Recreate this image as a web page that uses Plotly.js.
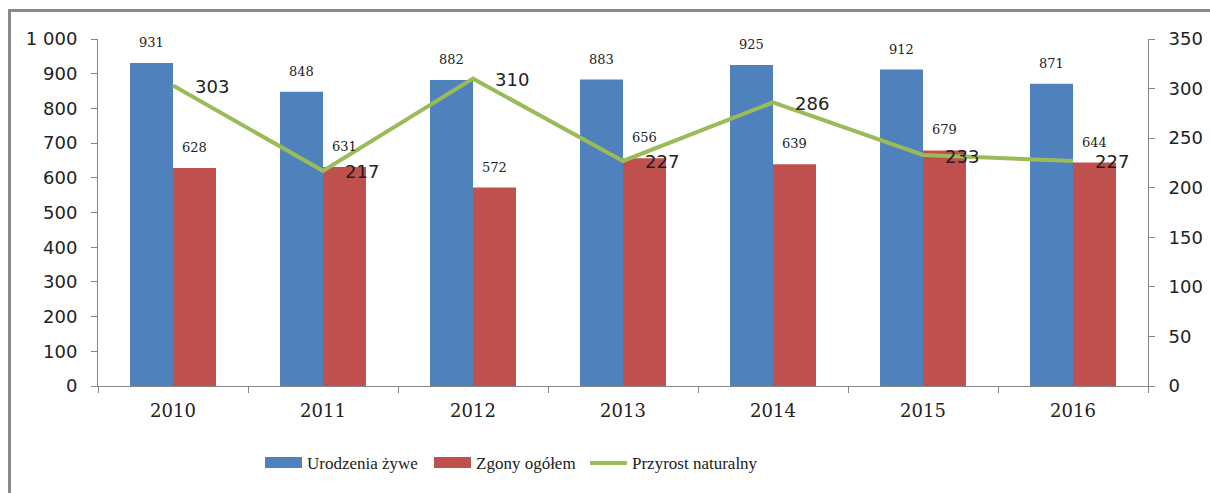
<!DOCTYPE html>
<html>
<head>
<meta charset="utf-8">
<script src="https://cdn.plot.ly/plotly-3.0.1.min.js"></script>
<style>
html,body{margin:0;padding:0;background:#fff;}
#wrap{position:relative;width:1210px;height:493px;overflow:hidden;}
#chart{position:absolute;left:0;top:0;width:1210px;height:493px;}
#frame{position:absolute;left:8px;top:9px;width:1220px;height:500px;border-left:3px solid #8a8a8a;border-top:3px solid #8a8a8a;pointer-events:none;}
</style>
</head>
<body>
<div id="wrap"><div id="chart"></div><div id="frame"></div></div>
<script>
const years = ['2010','2011','2012','2013','2014','2015','2016'];
const births = [931, 848, 882, 883, 925, 912, 871];
const deaths = [628, 631, 572, 656, 639, 679, 644];
const growth = [303, 217, 310, 227, 286, 233, 227];
const seriesNames = ['Urodzenia żywe', 'Zgony ogółem', 'Przyrost naturalny'];
const seriesColors = ['#4F81BD', '#C0504D', '#9BBB59'];
const leftTicks = [0,100,200,300,400,500,600,700,800,900,1000];
const leftTickText = ['0','100','200','300','400','500','600','700','800','900','1 000'];
const rightTicks = [0,50,100,150,200,250,300,350];

const serif = 'DejaVu Serif, serif';
const legendFont = 'Liberation Serif, serif';
const sans = 'DejaVu Sans, sans-serif';

const traces = [
  {type:'bar', name:seriesNames[0], x:years, y:births, marker:{color:seriesColors[0]}, hoverinfo:'skip', showlegend:false},
  {type:'bar', name:seriesNames[1], x:years, y:deaths, marker:{color:seriesColors[1]}, hoverinfo:'skip', showlegend:false},
  {type:'scatter', mode:'lines', name:seriesNames[2], x:years, y:growth, yaxis:'y2',
   line:{color:seriesColors[2], width:4}, hoverinfo:'skip', showlegend:false}
];

const annotations = [];
years.forEach((yr,i)=>{
  annotations.push({x:i, y:births[i], xref:'x', yref:'y', text:String(births[i]), showarrow:false,
    xanchor:'center', yanchor:'bottom', xshift:-21.5, yshift:11, font:{family:serif, size:13, color:'#222'}});
  annotations.push({x:i, y:deaths[i], xref:'x', yref:'y', text:String(deaths[i]), showarrow:false,
    xanchor:'center', yanchor:'bottom', xshift:21.5, yshift:11, font:{family:serif, size:13, color:'#222'}});
  annotations.push({x:i, y:growth[i], xref:'x', yref:'y2', text:String(growth[i]), showarrow:false,
    xanchor:'left', yanchor:'middle', xshift:20, yshift:-1, font:{family:sans, size:18, color:'#222'}});
});

// custom legend (paper coordinates: plot area is 1050 x 347 px, origin at (98, 386))
const PW = 1050, PH = 347, L = 98, B = 386;
const px = v => (v - L) / PW;
const py = v => (B - v) / PH;
const legendStarts = [265, 434, 590];
const shapes = [];
legendStarts.forEach((sx, k)=>{
  if (k < 2) {
    shapes.push({type:'rect', xref:'paper', yref:'paper', x0:px(sx), x1:px(sx+37), y0:py(468), y1:py(457),
      fillcolor:seriesColors[k], line:{width:0}});
  } else {
    shapes.push({type:'line', xref:'paper', yref:'paper', x0:px(sx), x1:px(sx+37), y0:py(463), y1:py(463),
      line:{color:seriesColors[k], width:4}});
  }
  annotations.push({xref:'paper', yref:'paper', x:px(sx+40), y:py(463), text:seriesNames[k], showarrow:false,
    xanchor:'left', yanchor:'middle', font:{family:legendFont, size:17, color:'#222'}});
});

const layout = {
  width:1210, height:493,
  margin:{l:98, r:62, t:39, b:107, pad:0},
  paper_bgcolor:'rgba(0,0,0,0)', plot_bgcolor:'rgba(0,0,0,0)',
  barmode:'group', bargap:0.427, bargroupgap:0,
  showlegend:false,
  xaxis:{type:'category', range:[-0.5, 6.5], autorange:false, showline:true, linecolor:'#868686', linewidth:1,
    ticks:'outside', ticklen:6, tickcolor:'#868686', tickson:'boundaries', tickangle:0, ticklabelstandoff:8,
    tickfont:{family:serif, size:18, color:'#222'}, showgrid:false, zeroline:false, fixedrange:true},
  yaxis:{range:[0,1000], autorange:false, tickvals:leftTicks, ticktext:leftTickText, showline:true, linecolor:'#868686',
    ticks:'outside', ticklen:6, tickcolor:'#868686', ticklabelstandoff:10, tickfont:{family:sans, size:18, color:'#222'},
    showgrid:false, zeroline:false, fixedrange:true},
  yaxis2:{range:[0,350], autorange:false, tickvals:rightTicks, overlaying:'y', side:'right', showline:true, linecolor:'#868686',
    ticks:'outside', ticklen:6, tickcolor:'#868686', ticklabelstandoff:10, tickfont:{family:sans, size:18, color:'#222'},
    showgrid:false, zeroline:false, fixedrange:true},
  annotations:annotations,
  shapes:shapes
};

Plotly.newPlot('chart', traces, layout, {displayModeBar:false, staticPlot:true});
</script>
</body>
</html>
